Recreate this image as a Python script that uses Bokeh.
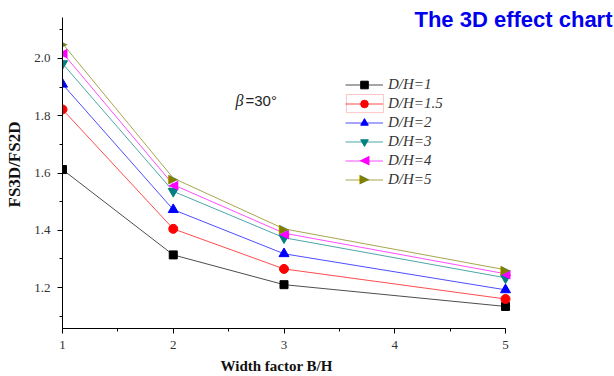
from bokeh.plotting import figure
from bokeh.models import (Legend, LegendItem, Label, BoxAnnotation, SingleIntervalTicker,
                          NumeralTickFormatter, Range1d, ColumnDataSource)
from bokeh.core.properties import value
from bokeh.embed import file_html
from bokeh.resources import INLINE

# data
width_factor = [1, 2, 3, 5]
series_names = ["D/H=1", "D/H=1.5", "D/H=2", "D/H=3", "D/H=4", "D/H=5"]
dh_1 = [1.612, 1.314, 1.210, 1.134]
dh_1_5 = [1.822, 1.405, 1.265, 1.160]
dh_2 = [1.910, 1.472, 1.318, 1.192]
dh_3 = [1.982, 1.536, 1.374, 1.234]
dh_4 = [2.020, 1.559, 1.390, 1.248]
dh_5 = [2.052, 1.582, 1.405, 1.262]
series_values = [dh_1, dh_1_5, dh_2, dh_3, dh_4, dh_5]

colors = ["#000000", "#ff0000", "#0000ff", "#008080", "#ff00ff", "#808000"]
markers = ["square", "circle", "triangle", "inverted_triangle", "◀", "▶"]
sizes = [8, 9, 10, 10, 10, 10]

x_axis_min, x_axis_max = 1, 5
y_axis_min, y_axis_max = 1.057, 2.143

p = figure(width=614, height=376, output_backend="svg", toolbar_location=None,
           x_range=Range1d(1, 5.984), y_range=Range1d(1.057, 2.2024),
           min_border_left=62, min_border_right=0, min_border_top=0, min_border_bottom=48,
           background_fill_color="white", border_fill_color="white")
p.outline_line_color = None
p.grid.visible = False

p.xaxis.ticker = SingleIntervalTicker(interval=1, num_minor_ticks=2)
p.yaxis.ticker = SingleIntervalTicker(interval=0.2, num_minor_ticks=2)
p.yaxis.formatter = NumeralTickFormatter(format="0.0")
p.xaxis.bounds = (x_axis_min, x_axis_max)
p.yaxis.bounds = (y_axis_min, y_axis_max)
for ax in (p.xaxis, p.yaxis):
    ax.axis_line_color = "#000000"
    ax.major_tick_line_color = "#000000"
    ax.minor_tick_line_color = "#000000"
    ax.major_tick_out = 5
    ax.major_tick_in = 0
    ax.minor_tick_out = 3
    ax.minor_tick_in = 0
    ax.major_label_text_font = "Liberation Serif"
    ax.major_label_text_font_size = "13px"
    ax.major_label_text_color = "#333333"
    ax.axis_label_text_font = "Liberation Serif"
    ax.axis_label_text_font_style = "bold"
    ax.axis_label_text_color = "#111111"
p.xaxis.axis_label = "Width factor B/H" + "\u00a0" * 33
p.xaxis.axis_label_text_font_size = "15px"
p.xaxis.axis_label_standoff = 6
p.xaxis.major_label_standoff = 7
p.yaxis.axis_label = "FS3D/FS2D"
p.yaxis.axis_label_text_font_size = "17px"
p.yaxis.axis_label_standoff = 7
p.yaxis.major_label_standoff = 7

items = []
text_marker_rows = []
for i, (name, vals, c, m, s) in enumerate(zip(series_names, series_values, colors, markers, sizes)):
    src = ColumnDataSource(dict(x=width_factor, y=vals))
    r1 = p.line("x", "y", source=src, line_color=c, line_width=1, line_alpha=0.7)
    if m in ("◀", "▶"):
        r2 = p.text("x", "y", source=src, text=value(m), text_font=value("DejaVu Sans"),
                    text_font_size="13px", text_color=c, text_align="center",
                    text_baseline="middle")
        text_marker_rows.append((i, m, c))
    else:
        r2 = p.scatter("x", "y", source=src, marker=m, size=s, fill_color=c, line_color=c)
    items.append(LegendItem(label=name, renderers=[r1, r2]))

legend = Legend(items=items, location=(283, 139), padding=0, margin=0, spacing=0,
                glyph_width=38, glyph_height=19, label_height=19, label_standoff=5,
                label_text_font="Liberation Serif", label_text_font_style="italic",
                label_text_font_size="15px", label_text_color="#333333",
                border_line_color=None, background_fill_alpha=0)
p.add_layout(legend)

# legend glyphs for the sideways triangles (rows at 19px pitch, first row centre y=1.913)
for i, m, c in text_marker_rows:
    p.add_layout(Label(x=3.727, y=1.913 - i * 19 * 0.003492, text=m, text_font="DejaVu Sans",
                       text_font_size="13px", text_color=c, text_align="center",
                       text_baseline="middle"))

p.add_layout(BoxAnnotation(left=3.564, right=3.898, top=1.874, bottom=1.811,
                           fill_alpha=0, line_color="#ff4040", line_width=1))

p.add_layout(Label(x=2.562, y=1.853, text="β", text_font="Liberation Serif",
                   text_font_style="italic", text_font_size="16px", text_color="#222222",
                   text_baseline="middle"))
p.add_layout(Label(x=2.652, y=1.853, text="=30°", text_font="Liberation Sans",
                   text_font_size="15px", text_color="#222222", text_baseline="middle"))

p.add_layout(Label(x=5.966, y=2.1814, text="The 3D effect chart", text_font="Liberation Sans",
                   text_font_style="bold", text_font_size="22px", text_color="#0000ee",
                   text_align="right", text_baseline="top"))

open("out.html", "w").write(file_html(p, INLINE))
